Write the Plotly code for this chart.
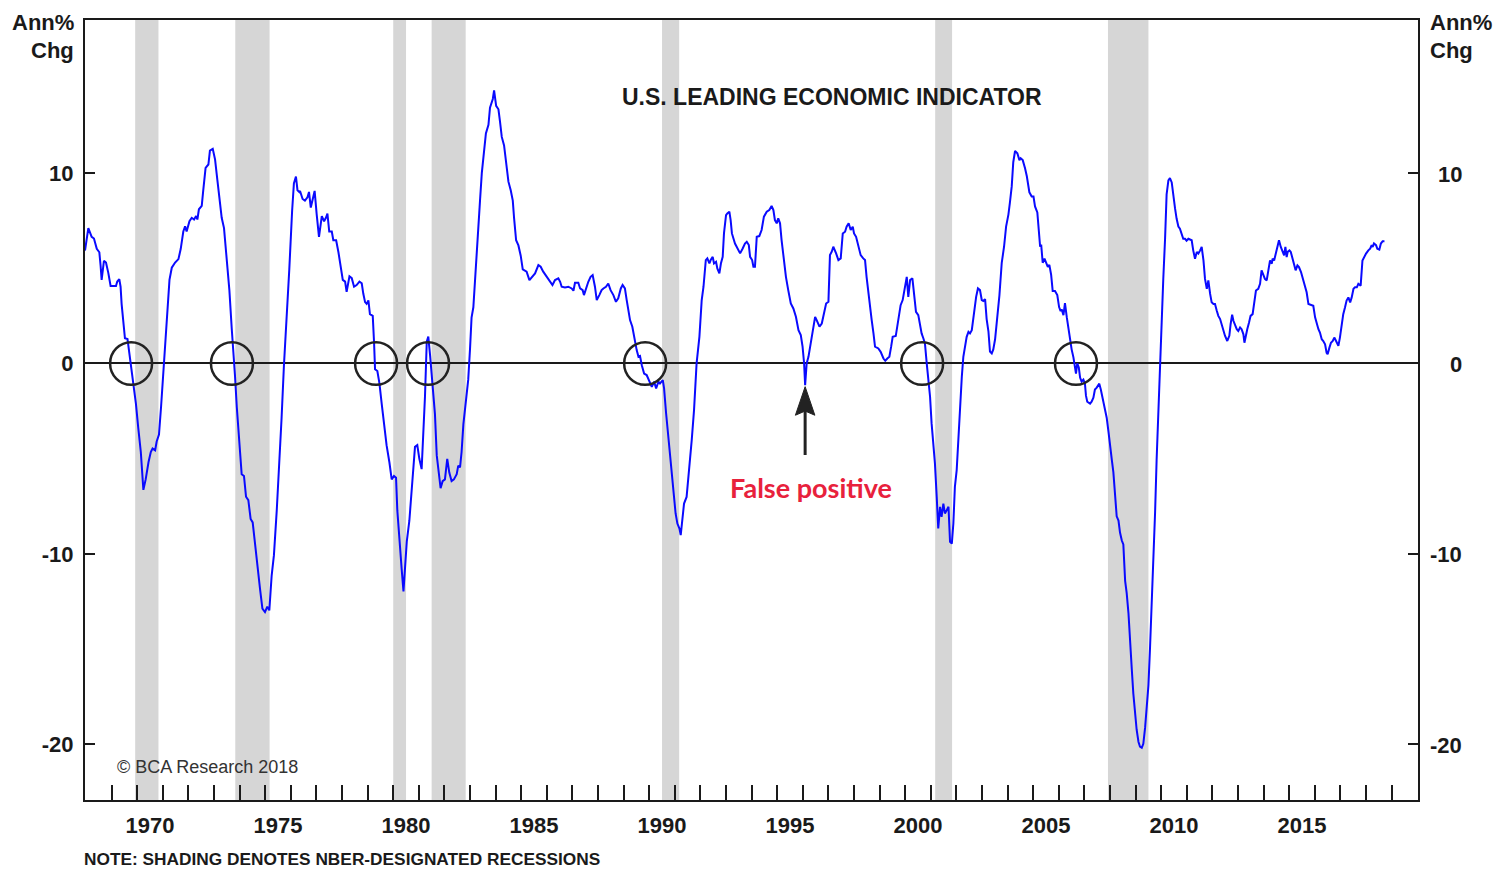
import plotly.graph_objects as go

# ---------------- data (decimal years, annual % change) ----------------
t_1968_76 = [1967.96,1968.09,1968.22,1968.31,1968.42,1968.52,1968.57,1968.61,1968.70,1968.78,1968.87,1968.96,
             1969.17,1969.22,1969.30,1969.35,1969.39,1969.46,1969.52,1969.62,1969.69,1969.78,1969.88,1969.95,
             1970.04,1970.14,1970.24,1970.33,1970.44,1970.53,1970.60,1970.70,1970.76,1970.85,1970.93,1971.02,
             1971.10,1971.18,1971.26,1971.35,1971.48,1971.61,1971.70,1971.80,1971.87,1971.93,1972.04,1972.13,
             1972.22,1972.30,1972.35,1972.41,1972.52,1972.58,1972.67,1972.78,1972.84,1972.95,1973.04,1973.13,
             1973.23,1973.30,1973.39,1973.49,1973.60,1973.69,1973.76,1973.82,1973.89,1973.99,1974.08,1974.17,
             1974.25,1974.34,1974.43,1974.51,1974.60,1974.69,1974.80,1974.89,1974.99,1975.08,1975.16,1975.25,
             1975.34,1975.45,1975.55,1975.64,1975.73,1975.84,1975.94,1976.05,1976.12,1976.20,1976.26,1976.33]
v_1968_76 = [5.93,7.11,6.65,6.56,6.02,5.84,5.12,4.39,5.39,5.30,4.76,4.07,
             4.07,4.30,4.43,4.03,3.13,2.22,1.32,1.28,0.60,-0.49,-1.39,-2.12,
             -3.38,-4.65,-6.64,-6.09,-5.19,-4.65,-4.47,-4.56,-4.10,-3.74,-2.30,-0.31,
             1.50,3.13,4.39,5.03,5.30,5.48,6.02,6.93,7.20,6.93,7.47,7.65,
             7.56,7.74,7.56,8.10,8.28,9.10,10.27,10.45,11.18,11.27,10.72,9.64,
             8.55,7.65,7.11,5.66,3.85,1.86,0.60,-0.67,-2.30,-3.92,-5.82,-5.91,
             -7.00,-7.18,-8.17,-8.35,-9.53,-10.80,-11.88,-12.88,-13.06,-12.78,-12.97,-11.16,
             -10.07,-7.72,-5.37,-2.84,-0.13,2.22,4.94,8.01,9.46,9.82,9.10,9.01]

t_1976_85 = [1976.36,1976.46,1976.55,1976.65,1976.71,1976.78,1976.85,1976.93,1977.01,1977.10,1977.21,1977.30,
             1977.37,1977.43,1977.50,1977.60,1977.66,1977.77,1977.86,1977.95,1978.03,1978.12,1978.18,1978.29,
             1978.38,1978.47,1978.57,1978.68,1978.77,1978.83,1978.90,1978.96,1979.03,1979.09,1979.20,1979.25,
             1979.29,1979.38,1979.46,1979.55,1979.64,1979.74,1979.85,1979.94,1980.03,1980.11,1980.16,1980.24,
             1980.33,1980.40,1980.46,1980.53,1980.63,1980.72,1980.79,1980.85,1980.94,1981.02,1981.11,1981.18,
             1981.24,1981.31,1981.37,1981.44,1981.54,1981.63,1981.70,1981.80,1981.85,1981.93,1982.02,1982.11,
             1982.19,1982.28,1982.37,1982.48,1982.54,1982.61,1982.67,1982.74,1982.84,1982.93,1983.00,1983.06,
             1983.13,1983.19,1983.26,1983.32,1983.39,1983.46,1983.55,1983.62,1983.72,1983.78,1983.89,1983.94,
             1984.02,1984.11,1984.17,1984.24,1984.33,1984.41,1984.50,1984.59,1984.67,1984.72,1984.80,1984.89,
             1984.98,1985.06]
v_1976_85 = [9.06,8.64,8.55,8.73,9.01,8.19,8.64,9.06,7.83,6.65,7.74,7.47,
             7.65,7.87,6.93,6.93,6.47,6.47,5.84,5.12,4.39,4.30,3.76,4.58,
             4.48,4.03,4.12,4.30,4.21,3.67,3.22,3.13,3.31,2.59,2.50,1.14,
             -0.31,-0.40,-1.03,-2.12,-3.20,-4.29,-5.19,-6.09,-5.91,-6.00,-7.72,-9.35,
             -10.80,-11.97,-10.80,-9.35,-8.26,-6.82,-5.55,-4.38,-4.29,-5.01,-5.55,-3.74,
             -1.75,1.14,1.41,0.42,-1.03,-2.66,-4.83,-6.09,-6.55,-6.18,-6.09,-5.01,
             -5.73,-6.18,-6.09,-5.82,-5.37,-5.46,-4.65,-3.20,-1.93,-0.85,0.78,2.41,
             2.95,4.39,5.66,7.11,8.55,10.00,11.08,12.08,12.53,13.44,13.89,14.34,
             13.53,13.35,12.71,11.90,11.45,10.54,9.55,9.10,8.55,7.65,6.47,6.20,
             5.66,4.94]

t_1985_94 = [1985.11,1985.21,1985.32,1985.41,1985.54,1985.67,1985.76,1985.86,1985.99,1986.13,1986.22,1986.32,
             1986.45,1986.52,1986.58,1986.71,1986.84,1986.97,1987.04,1987.10,1987.23,1987.30,1987.40,1987.45,
             1987.53,1987.62,1987.71,1987.79,1987.88,1987.95,1988.05,1988.14,1988.21,1988.31,1988.40,1988.49,
             1988.60,1988.70,1988.79,1988.89,1988.96,1989.05,1989.12,1989.18,1989.25,1989.34,1989.45,1989.51,
             1989.58,1989.64,1989.71,1989.80,1989.90,1990.00,1990.10,1990.19,1990.27,1990.36,1990.42,1990.53,
             1990.58,1990.66,1990.75,1990.84,1990.94,1991.03,1991.10,1991.18,1991.23,1991.30,1991.36,1991.46,
             1991.55,1991.66,1991.75,1991.85,1991.96,1992.05,1992.12,1992.21,1992.27,1992.35,1992.40,1992.48,
             1992.53,1992.61,1992.66,1992.74,1992.80,1992.87,1992.92,1993.00,1993.05,1993.13,1993.18,1993.23,
             1993.35,1993.44,1993.55,1993.65,1993.74,1993.81,1993.89,1993.94,1994.02,1994.07,1994.13]
v_1985_94 = [4.90,4.82,4.38,4.55,4.73,5.17,5.08,4.82,4.55,4.29,4.12,4.38,
             4.47,4.29,4.03,3.99,4.03,3.94,3.82,4.24,4.24,3.94,3.85,3.59,
             3.94,4.29,4.55,4.64,4.03,3.33,3.59,3.85,3.94,4.03,4.20,3.85,
             3.59,3.24,3.42,3.94,4.12,3.94,3.33,2.80,2.28,1.93,1.05,0.70,
             0.35,0.39,-0.09,-0.53,-0.61,-0.88,-1.23,-0.96,-1.31,-0.96,-1.05,-0.88,
             -1.31,-2.63,-3.85,-5.25,-6.65,-7.88,-8.41,-8.67,-9.02,-7.88,-7.36,-7.01,
             -5.78,-4.03,-2.45,0.00,1.40,3.33,4.03,5.43,5.52,5.25,5.43,5.60,
             5.25,5.34,4.99,4.73,5.25,5.60,6.83,7.79,7.88,7.97,7.53,6.83,
             6.30,6.04,5.78,6.04,6.30,6.39,6.22,5.60,5.43,5.08,5.08]

t_1994_03 = [1994.20,1994.30,1994.39,1994.48,1994.59,1994.69,1994.78,1994.85,1994.91,1994.98,1995.04,1995.11,
             1995.17,1995.24,1995.34,1995.43,1995.53,1995.63,1995.73,1995.83,1995.92,1995.99,1996.05,1996.09,
             1996.15,1996.22,1996.31,1996.39,1996.48,1996.54,1996.65,1996.74,1996.83,1996.91,1997.00,1997.06,
             1997.13,1997.19,1997.30,1997.39,1997.48,1997.56,1997.65,1997.71,1997.79,1997.87,1997.95,1998.00,
             1998.08,1998.17,1998.26,1998.36,1998.43,1998.49,1998.60,1998.69,1998.76,1998.82,1998.95,1999.04,
             1999.15,1999.22,1999.30,1999.38,1999.45,1999.51,1999.63,1999.73,1999.82,1999.90,1999.99,2000.06,
             2000.12,2000.19,2000.28,2000.34,2000.42,2000.51,2000.58,2000.64,2000.71,2000.77,2000.84,2000.90,
             2000.97,2001.03,2001.10,2001.16,2001.23,2001.29,2001.36,2001.42,2001.49,2001.55,2001.62,2001.69,
             2001.75,2001.82,2001.88,2001.94,2002.01,2002.08,2002.14,2002.21,2002.27,2002.34,2002.40,2002.47,
             2002.53,2002.60,2002.69,2002.77,2002.84,2002.92,2002.99]
v_1994_03 = [6.65,6.69,7.01,7.71,7.97,8.06,8.27,8.06,7.53,7.36,7.62,7.36,
             6.48,5.60,4.55,3.85,3.15,2.89,2.45,1.75,1.49,0.88,0.00,-1.14,
             0.00,0.35,1.05,1.75,2.45,2.28,1.93,2.10,2.63,3.15,3.24,5.69,
             5.87,6.13,5.78,5.43,5.52,6.83,6.92,7.18,7.36,7.01,7.18,6.83,
             6.65,6.22,5.69,5.52,5.43,4.55,3.15,2.28,1.58,0.88,0.79,0.61,
             0.26,0.14,0.26,0.35,0.88,1.40,1.44,2.45,3.06,3.33,4.03,4.55,
             3.50,4.38,4.47,3.68,2.71,2.54,1.93,1.58,1.31,1.05,0.00,-0.70,
             -1.75,-3.15,-4.38,-5.25,-7.01,-8.67,-7.53,-8.06,-7.36,-7.88,-7.71,-7.53,
             -9.37,-9.46,-8.41,-6.48,-5.60,-3.85,-2.10,-0.70,0.35,0.88,1.40,1.66,
             1.58,1.75,2.80,3.50,3.94,3.85,3.33]

t_2003_11 = [2003.05,2003.12,2003.18,2003.25,2003.31,2003.38,2003.44,2003.51,2003.60,2003.68,2003.77,2003.86,
             2003.94,2004.03,2004.09,2004.16,2004.22,2004.29,2004.38,2004.46,2004.51,2004.59,2004.68,2004.75,
             2004.85,2004.94,2005.01,2005.07,2005.16,2005.20,2005.27,2005.31,2005.37,2005.44,2005.50,2005.57,
             2005.63,2005.70,2005.76,2005.85,2005.94,2006.01,2006.07,2006.11,2006.18,2006.24,2006.31,2006.37,
             2006.44,2006.50,2006.57,2006.63,2006.67,2006.72,2006.78,2006.83,2006.89,2006.96,2007.02,2007.06,
             2007.11,2007.22,2007.28,2007.35,2007.41,2007.48,2007.54,2007.58,2007.64,2007.71,2007.80,2007.87,
             2007.94,2008.00,2008.07,2008.13,2008.20,2008.26,2008.33,2008.39,2008.46,2008.52,2008.59,2008.65,
             2008.72,2008.78,2008.85,2008.91,2008.98,2009.04,2009.11,2009.17,2009.24,2009.30,2009.37,2009.43,
             2009.50,2009.56,2009.63,2009.69,2009.76,2009.82,2009.89,2009.95,2010.02,2010.08,2010.15,2010.21,
             2010.28,2010.34,2010.41,2010.47,2010.54,2010.60,2010.67,2010.73,2010.80,2010.86,2010.93,2010.99,
             2011.06]
v_2003_11 = [3.28,3.38,2.33,1.69,0.63,0.53,0.74,1.27,2.54,3.59,5.29,6.13,
             7.19,7.82,8.46,9.30,10.57,11.16,11.04,10.68,10.78,10.68,10.25,9.83,
             8.99,8.77,8.77,8.25,7.93,7.19,6.13,6.24,5.29,5.50,5.29,5.07,
             5.18,4.65,3.81,3.81,3.59,2.96,2.75,2.85,2.54,3.17,2.43,1.80,
             1.16,0.74,0.32,-0.11,-0.53,0.00,-0.21,-0.74,-0.95,-0.85,-1.06,-1.69,
             -2.01,-2.11,-2.01,-1.80,-1.37,-1.27,-1.16,-1.06,-1.37,-1.80,-2.33,-2.85,
             -3.59,-4.44,-5.07,-5.71,-6.77,-8.03,-8.25,-8.88,-9.30,-9.51,-11.42,-12.05,
             -13.11,-14.80,-16.07,-17.34,-18.39,-19.24,-19.87,-20.13,-20.19,-19.98,-19.13,-17.97,
             -16.91,-15.01,-12.68,-10.15,-7.82,-5.07,-2.33,0.00,2.75,4.44,6.55,8.88,
             9.62,9.73,9.51,8.77,8.14,7.61,7.19,7.08,6.77,6.55,6.55,6.45,
             6.55]

t_2011_18 = [2011.19,2011.25,2011.32,2011.39,2011.45,2011.52,2011.58,2011.65,2011.71,2011.78,2011.84,2011.91,
             2011.97,2012.04,2012.10,2012.17,2012.23,2012.30,2012.36,2012.43,2012.49,2012.58,2012.66,2012.71,
             2012.77,2012.82,2012.88,2012.95,2013.01,2013.08,2013.14,2013.21,2013.25,2013.31,2013.36,2013.43,
             2013.49,2013.57,2013.64,2013.70,2013.79,2013.86,2013.92,2013.99,2014.05,2014.12,2014.18,2014.25,
             2014.32,2014.35,2014.41,2014.48,2014.54,2014.60,2014.67,2014.72,2014.80,2014.85,2014.90,2014.94,
             2015.01,2015.06,2015.12,2015.19,2015.25,2015.32,2015.38,2015.46,2015.55,2015.62,2015.68,2015.75,
             2015.84,2015.94,2016.01,2016.07,2016.14,2016.20,2016.27,2016.33,2016.40,2016.46,2016.50,2016.57,
             2016.63,2016.70,2016.76,2016.83,2016.92,2016.98,2017.05,2017.11,2017.18,2017.24,2017.31,2017.38,
             2017.44,2017.51,2017.57,2017.64,2017.70,2017.79,2017.86,2017.92,2018.00,2018.09,2018.16,2018.22,
             2018.26,2018.31,2018.39,2018.44,2018.52,2018.58,2018.65,2018.72]
v_2011_18 = [6.47,5.94,5.50,5.86,5.77,5.94,6.12,5.41,4.44,3.92,4.36,3.65,
             3.21,3.12,3.12,2.77,2.50,2.33,2.06,1.71,1.46,1.18,1.45,2.06,
             2.56,2.24,1.98,1.80,1.71,1.89,1.80,1.53,1.09,1.53,1.80,2.15,
             2.50,2.59,3.30,3.83,3.92,4.18,4.89,4.62,4.44,4.36,4.89,5.41,
             5.24,5.50,5.41,5.77,6.21,6.47,6.12,5.94,5.68,6.12,5.59,5.86,
             5.94,5.86,5.59,5.24,4.89,5.15,5.06,4.80,4.36,4.09,3.74,3.12,
             3.09,3.03,2.42,2.06,1.80,1.62,1.27,1.18,1.01,0.56,0.48,0.83,
             1.09,1.18,1.36,1.18,0.92,1.36,2.06,2.59,2.95,3.30,3.47,3.21,
             3.47,3.92,4.00,4.00,4.18,4.09,5.41,5.59,5.77,5.94,6.03,6.21,
             6.12,6.30,6.21,6.03,5.98,6.30,6.42,6.42]

# NBER recessions (decimal years)
rec_start = [1969.92, 1973.83, 1980.00, 1981.50, 1990.50, 2001.17, 2007.92]
rec_end = [1970.83, 1975.17, 1980.50, 1982.83, 1991.17, 2001.83, 2009.50]

# circled zero crossings
circle_x = [1969.76, 1973.70, 1979.33, 1981.36, 1989.84, 2000.66, 2006.67]

# axis labels
year_labels = ["1970", "1975", "1980", "1985", "1990", "1995", "2000", "2005", "2010", "2015"]
year_label_pos = [1970.5, 1975.5, 1980.5, 1985.5, 1990.5, 1995.5, 2000.5, 2005.5, 2010.5, 2015.5]
y_ticks = [-20, -10, 0, 10]
y_tick_text = ["-20", "-10", "0", "10"]

false_pos_x = 1996.09

years = t_1968_76 + t_1976_85 + t_1985_94 + t_1994_03 + t_2003_11 + t_2011_18
values = v_1968_76 + v_1976_85 + v_1985_94 + v_1994_03 + v_2003_11 + v_2011_18

# ---------------- figure ----------------
FONT = "Liberation Sans, Arial, sans-serif"
INK = "#1a1a1a"
XR = [1967.96, 2020.03]
YR = [-22.93, 18.04]

fig = go.Figure()
fig.add_trace(go.Scatter(x=years, y=values, mode="lines",
                         line=dict(color="#0a0aff", width=2), showlegend=False, hoverinfo="skip"))
fig.add_trace(go.Scatter(x=[years[0]], y=[0], yaxis="y2", mode="markers",
                         marker=dict(opacity=0), showlegend=False, hoverinfo="skip"))

shapes = []
for s, e in zip(rec_start, rec_end):
    shapes.append(dict(type="rect", xref="x", yref="paper", x0=s, x1=e, y0=0, y1=1,
                       fillcolor="#d6d6d6", line=dict(width=0), layer="below"))
for cx in circle_x:
    shapes.append(dict(type="circle", xref="x", yref="y", x0=cx - 0.82, x1=cx + 0.82,
                       y0=-1.12, y1=1.12, line=dict(color="#222222", width=2.5)))
# arrow for the false positive
shapes.append(dict(type="line", xref="x", yref="y", x0=false_pos_x, x1=false_pos_x,
                   y0=-4.81, y1=-2.4, line=dict(color="#222222", width=3)))
shapes.append(dict(type="path", xref="x", yref="y",
                   path=f"M {false_pos_x} -1.22 L {false_pos_x - 0.38} -2.72 L {false_pos_x} -2.5 L {false_pos_x + 0.38} -2.72 Z",
                   fillcolor="#222222", line=dict(color="#222222", width=1)))

bold = dict(family=FONT, size=22, color=INK, weight="bold")
annotations = [
    dict(text="U.S. LEADING ECONOMIC INDICATOR", x=1997.14, y=14.0, xref="x", yref="y",
         showarrow=False, font=dict(family=FONT, size=23, color=INK, weight="bold")),
    dict(text="False positive", x=1996.32, y=-6.49, xref="x", yref="y", showarrow=False,
         font=dict(family="Lato, Noto Sans, sans-serif", size=27, color="#e8213c", weight="bold")),
    dict(text="© BCA Research 2018", x=1969.21, y=-21.19, xref="x", yref="y", xanchor="left",
         xshift=-2, showarrow=False, font=dict(family=FONT, size=18, color="#333333")),
    dict(text="NOTE: SHADING DENOTES NBER-DESIGNATED RECESSIONS", x=0, y=0, xref="paper", yref="paper",
         xanchor="left", yanchor="middle", yshift=-59, xshift=-3, showarrow=False,
         font=dict(family=FONT, size=17.3, color=INK, weight="bold")),
    dict(text="Ann%", x=0, y=1, xref="paper", yref="paper", xanchor="right", yanchor="middle",
         xshift=-9, yshift=-2, showarrow=False, font=bold),
    dict(text="Chg", x=0, y=1, xref="paper", yref="paper", xanchor="right", yanchor="middle",
         xshift=-9, yshift=-30, showarrow=False, font=bold),
    dict(text="Ann%", x=1, y=1, xref="paper", yref="paper", xanchor="left", yanchor="middle",
         xshift=10, yshift=-2, showarrow=False, font=bold),
    dict(text="Chg", x=1, y=1, xref="paper", yref="paper", xanchor="left", yanchor="middle",
         xshift=10, yshift=-30, showarrow=False, font=bold),
]
# right-hand tick labels (right-aligned, as in the reference)
for tv, tt in zip(y_ticks, y_tick_text):
    annotations.append(dict(text=tt, x=1, y=tv, xref="paper", yref="y", xanchor="right",
                            yanchor="middle", xshift=46, yshift=-1, showarrow=False, font=bold))

fig.update_layout(
    width=1497, height=869,
    margin=dict(l=85, r=79, t=20, b=69),
    paper_bgcolor="white", plot_bgcolor="white",
    shapes=shapes, annotations=annotations,
    xaxis=dict(range=XR, showgrid=False, zeroline=False, showline=True, linecolor=INK, linewidth=2,
               mirror=True, tickvals=year_label_pos, ticktext=year_labels, ticks="",
               tickfont=bold, ticklabelstandoff=5,
               minor=dict(tickvals=list(range(1969, 2020)), ticks="inside", ticklen=15,
                          tickwidth=2, tickcolor=INK, showgrid=False)),
    yaxis=dict(range=YR, showgrid=False, zeroline=True, zerolinecolor=INK, zerolinewidth=2,
               showline=True, linecolor=INK, linewidth=2, mirror=True,
               tickvals=y_ticks, ticktext=y_tick_text, ticks="inside", ticklen=10, tickwidth=2,
               tickcolor=INK, tickfont=bold, ticklabelstandoff=5),
    yaxis2=dict(range=YR, overlaying="y", side="right", showgrid=False, zeroline=False,
                showline=False, tickvals=y_ticks, ticks="inside", ticklen=10, tickwidth=2,
                tickcolor=INK, showticklabels=False),
)

fig.write_html("out.html", config={"displayModeBar": False},
               post_script="document.body.style.margin='0';document.body.style.overflow='hidden';")
